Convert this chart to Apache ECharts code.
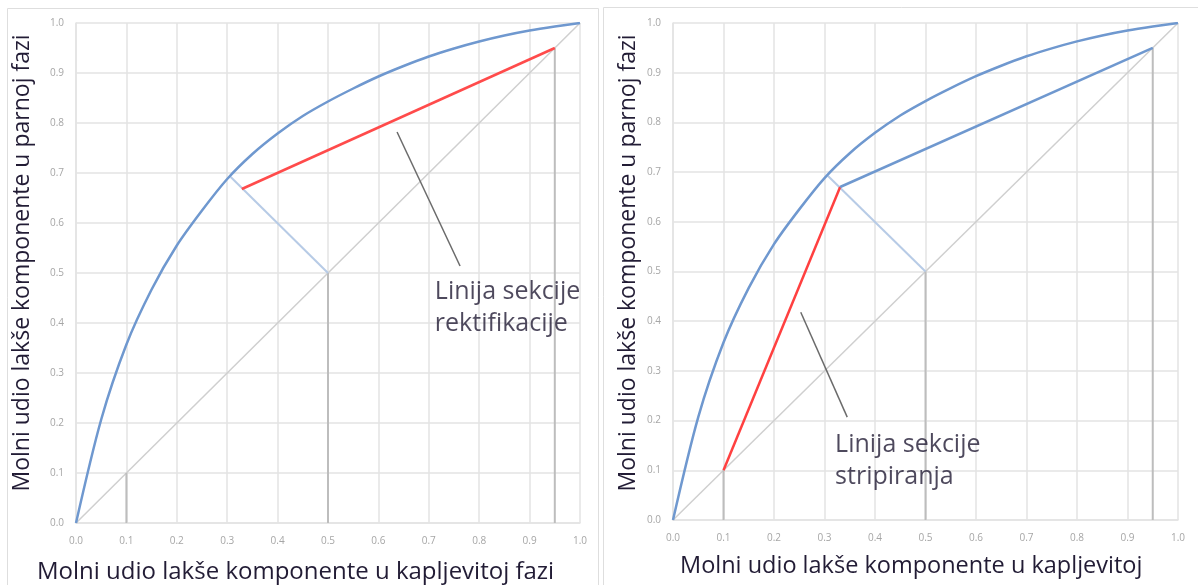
<!DOCTYPE html>
<html><head><meta charset="utf-8">
<script src="https://cdn.jsdelivr.net/npm/echarts@6/dist/echarts.min.js"></script>
<style>html,body{margin:0;padding:0;background:#fff}#c{width:1198px;height:585px}</style>
</head><body><div id="c"></div>
<script>
// Equilibrium curve
const eqX = [0, 0.05, 0.1, 0.15, 0.2, 0.25, 0.3, 0.35, 0.4, 0.45, 0.5, 0.55, 0.6, 0.65, 0.7, 0.75, 0.8, 0.85, 0.9, 0.95, 1.0];
const eqY = [0, 0.207, 0.357, 0.467, 0.555, 0.625, 0.688, 0.738, 0.779, 0.814, 0.843, 0.869, 0.893, 0.914, 0.933, 0.949, 0.963, 0.975, 0.985, 0.993, 1.0];
const diagonal = [[0, 0], [1, 1]];
const marks = [0.1, 0.5, 0.95];           // vertical guide lines x=y
const qLine = [[0.5, 0.5], [0.307, 0.692]];
const rectLine = [[0.329, 0.668], [0.95, 0.95]];
const stripLine = [[0.1, 0.1], [0.331, 0.67]];
const stripUpper = [[0.331, 0.67], [0.95, 0.95]];
const pointerLeft = [[0.637, 0.782], [0.762, 0.514]];
const pointerRight = [[0.253, 0.418], [0.345, 0.207]];
const labelLeft = "Linija sekcije\nrektifikacije";
const labelRight = "Linija sekcije\nstripiranja";
const labelLeftPos = [0.712, 0.494];
const labelRightPos = [0.321, 0.184];
const ticks = ["0.0","0.1","0.2","0.3","0.4","0.5","0.6","0.7","0.8","0.9","1.0"];
const xTitleLeft = "Molni udio lakše komponente u kapljevitoj fazi";
const xTitleRight = "Molni udio lakše komponente u kapljevitoj";
const yTitle = "Molni udio lakše komponente u parnoj fazi";

const FONT = "Open Sans";
const TXT = '#221c35';
const eqData = eqX.map((x, i) => [x, eqY[i]]);

function axis(type, gi) {
  return {
    type: 'value', gridIndex: gi, min: 0, max: 1, interval: 0.1,
    axisLine: {show: true, lineStyle: {color: '#e3e3e3', width: 1.5}},
    axisTick: {show: false},
    splitLine: {show: true, lineStyle: {color: '#e3e3e3', width: 1.5}},
    axisLabel: {color: '#a6a6a6', fontSize: 10, fontFamily: FONT, margin: type === 'x' ? 13 : 12,
      formatter: v => ticks[Math.round(v * 10)]}
  };
}
function seg(data, gi, color, width, z) {
  return {type: 'line', xAxisIndex: gi, yAxisIndex: gi, data: data, symbol: 'none',
    lineStyle: {color: color, width: width}, z: z || 2, silent: true, animation: false};
}
function common(gi, redData, redColor, secondLine, pointer, label, lpos) {
  const s = [];
  s.push(seg(diagonal, gi, '#cfcfcf', 1.5, 2));
  marks.forEach(m => s.push(seg([[m, 0], [m, m]], gi, '#bdbdbd', 2, 2)));
  s.push(seg(qLine, gi, '#b7cbe6', 2, 3));
  const c = seg(eqData, gi, '#6f98cf', 2.5, 4);
  c.smooth = 0.3;
  s.push(c);
  s.push(seg(redData, gi, redColor, 2.5, 5));
  if (secondLine) s.push(seg(secondLine, gi, '#6f98cf', 2.5, 5));
  s.push(seg(pointer, gi, '#6b6b6b', 1.5, 5));
  s.push({type: 'scatter', xAxisIndex: gi, yAxisIndex: gi, data: [lpos], symbolSize: 0, silent: true, animation: false,
    label: {show: true, position: 'inside', align: 'left', verticalAlign: 'top', formatter: label,
      fontFamily: FONT, fontSize: 25, lineHeight: 32, color: TXT}});
  return s;
}

const chart = echarts.init(document.getElementById('c'), null, {renderer: 'canvas'});
chart.setOption({
  animation: false,
  backgroundColor: '#fff',
  grid: [
    {left: 76, top: 23, width: 504, height: 500},
    {left: 673, top: 23, width: 505, height: 497}
  ],
  xAxis: [axis('x', 0), axis('x', 1)],
  yAxis: [axis('y', 0), axis('y', 1)],
  series: [].concat(
    common(0, rectLine, '#ff4b4b', null, pointerLeft, labelLeft, labelLeftPos),
    common(1, stripLine, '#ff4040', stripUpper, pointerRight, labelRight, labelRightPos)
  ),
  graphic: [
    {type: 'rect', shape: {x: 7.5, y: 8.5, width: 591, height: 600}, style: {fill: null, stroke: '#dedede', lineWidth: 1}, silent: true},
    {type: 'rect', shape: {x: 603.5, y: 7.5, width: 600, height: 600}, style: {fill: null, stroke: '#dedede', lineWidth: 1}, silent: true},
    {type: 'text', x: 37, y: 572, style: {text: xTitleLeft, fontFamily: FONT, fontSize: 24, fill: TXT, textVerticalAlign: 'middle'}},
    {type: 'text', x: 680, y: 566, style: {text: xTitleRight, fontFamily: FONT, fontSize: 23.5, fill: TXT, textVerticalAlign: 'middle'}},
    {type: 'text', x: 22, y: 263, rotation: Math.PI / 2, style: {text: yTitle, fontFamily: FONT, fontSize: 23, fill: TXT, textAlign: 'center', textVerticalAlign: 'middle'}},
    {type: 'text', x: 628, y: 263, rotation: Math.PI / 2, style: {text: yTitle, fontFamily: FONT, fontSize: 23, fill: TXT, textAlign: 'center', textVerticalAlign: 'middle'}}
  ]
});
</script></body></html>
